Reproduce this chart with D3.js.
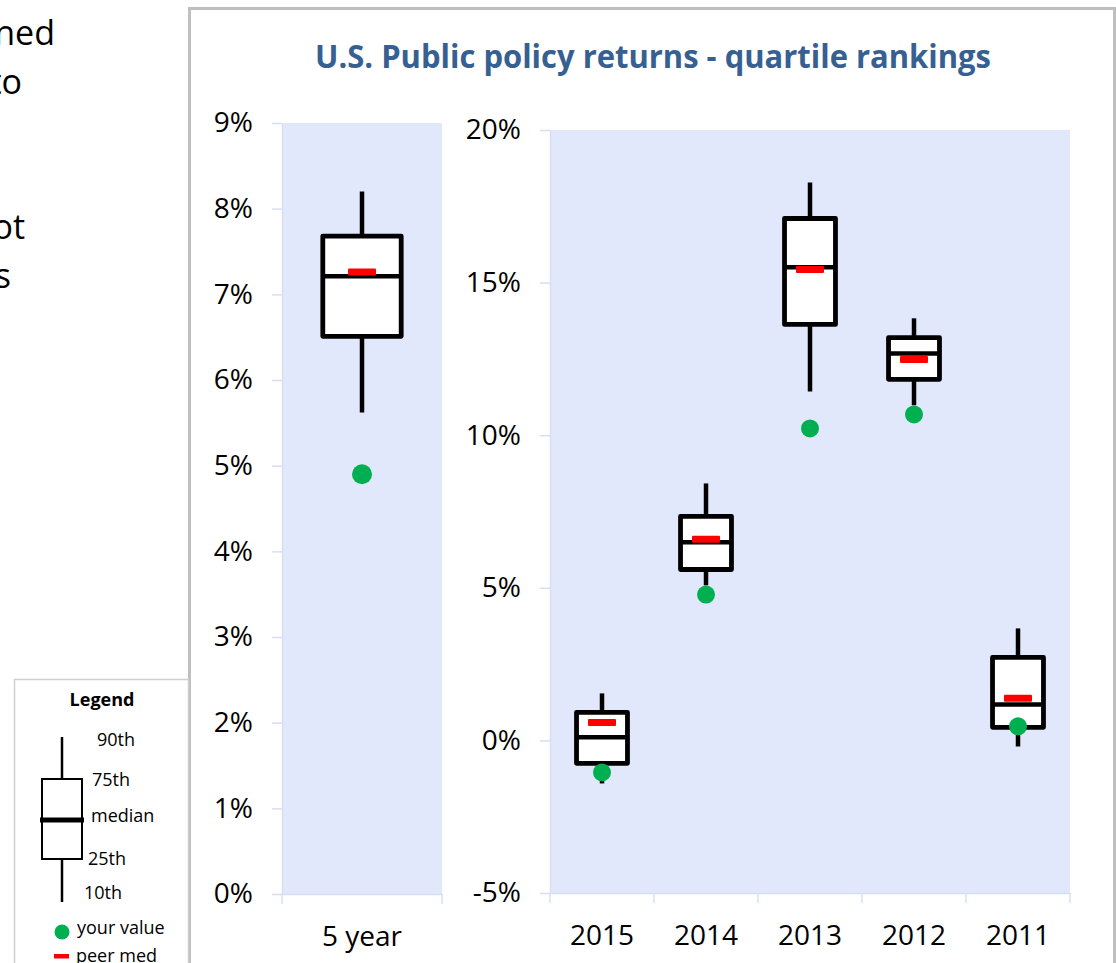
<!DOCTYPE html>
<html>
<head>
<meta charset="utf-8">
<script src="https://cdn.jsdelivr.net/npm/d3@7"></script>
<style>
  body { margin: 0; background: #fff; }
  svg { display: block; font-family: "Open Sans", "Noto Sans", sans-serif; }
  .axis .domain, .axis line { stroke: #d6dff2; stroke-width: 1.5; }
  .axis text { font-family: "Open Sans", "Noto Sans", sans-serif; font-size: 28px; fill: #000; }
</style>
</head>
<body>
<svg width="1116" height="963"></svg>
<script>
// five year panel
const periodCats   = ["5 year"];
const periodP10    = [5.62];
const periodP25    = [6.51];
const periodMed    = [7.21];
const periodP75    = [7.68];
const periodP90    = [8.20];
const periodYours  = [4.90];
const periodPeer   = [7.26];
const periodTicks  = [0, 1, 2, 3, 4, 5, 6, 7, 8, 9];

// annual panel
const years        = ["2015", "2014", "2013", "2012", "2011"];
const yearP10      = [-1.41, 5.08, 11.43, 10.98, -0.20];
const yearP25      = [-0.75, 5.60, 13.63, 11.83, 0.43];
const yearMed      = [0.10, 6.49, 15.50, 12.68, 1.18];
const yearP75      = [0.92, 7.34, 17.10, 13.20, 2.72];
const yearP90      = [1.54, 8.42, 18.28, 13.83, 3.67];
const yearYours    = [-1.05, 4.78, 10.22, 10.68, 0.46];
const yearPeer     = [0.59, 6.59, 15.43, 12.48, 1.38];
const yearTicks    = [-5, 0, 5, 10, 15, 20];

const legendLabels = ["90th", "75th", "median", "25th", "10th"];
const sideText     = ["ned", "to", "", "", "ot", "s"];

const title = "U.S. Public policy returns - quartile rankings";

const svg = d3.select("svg");

const rows = (cats, p10, p25, med, p75, p90, yours, peer) =>
  cats.map((c, i) => ({ cat: c, p10: p10[i], p25: p25[i], med: med[i],
    p75: p75[i], p90: p90[i], yours: yours[i], peer: peer[i] }));

// cut-off paragraph text on the far left
const sideEnds = [55, 22, 0, 0, 25, 11];
svg.append("g")
  .selectAll("text")
  .data(sideText)
  .join("text")
    .attr("x", (_, i) => sideEnds[i])
    .attr("y", (_, i) => 45 + i * 48.5)
    .attr("text-anchor", "end")
    .attr("font-size", 34)
    .text(d => d);

// chart frame
svg.append("rect")
  .attr("x", 189.5).attr("y", 8.5)
  .attr("width", 925).attr("height", 1000)
  .attr("fill", "#fff")
  .attr("stroke", "#bfbfbf")
  .attr("stroke-width", 3);

svg.append("text")
  .attr("x", 653)
  .attr("y", 68)
  .attr("text-anchor", "middle")
  .attr("font-size", 32)
  .attr("font-weight", "bold")
  .attr("fill", "#376092")
  .attr("textLength", 676)
  .attr("lengthAdjust", "spacingAndGlyphs")
  .text(title);

const drawPanel = (data, ticks, xRange, yDomain, yRange, dotR) => {
  const x = d3.scaleBand()
    .domain(data.map(d => d.cat))
    .range(xRange);

  const y = d3.scaleLinear()
    .domain(yDomain)
    .range(yRange);

  const g = svg.append("g");

  g.append("rect")
    .attr("x", xRange[0])
    .attr("y", yRange[1])
    .attr("width", xRange[1] - xRange[0])
    .attr("height", yRange[0] - yRange[1])
    .attr("fill", "#e2e8fb");

  g.append("g")
    .attr("class", "axis")
    .attr("transform", `translate(${xRange[0]},0)`)
    .call(d3.axisLeft(y)
      .tickValues(ticks)
      .tickFormat(d => d + "%")
      .tickSize(10)
      .tickSizeOuter(0)
      .tickPadding(19));

  const xAxis = g.append("g")
    .attr("class", "axis")
    .attr("transform", `translate(0,${yRange[0]})`)
    .call(d3.axisBottom(x)
      .tickSize(0)
      .tickSizeOuter(0)
      .tickPadding(32));

  // category ticks sit on the band edges
  xAxis.selectAll(".edge")
    .data(data.map(d => x(d.cat)).concat(xRange[1]))
    .join("line")
      .attr("class", "edge")
      .attr("x1", d => d).attr("x2", d => d)
      .attr("y1", 0).attr("y2", 10);

  const boxW = x.bandwidth() * 0.49;

  const box = g.selectAll(".box")
    .data(data)
    .join("g")
      .attr("class", "box")
      .attr("transform", d => `translate(${x(d.cat) + x.bandwidth() / 2},0)`);

  box.append("line")
    .attr("y1", d => y(d.p10))
    .attr("y2", d => y(d.p90))
    .attr("stroke", "#000")
    .attr("stroke-width", 4.5);

  box.append("rect")
    .attr("x", -boxW / 2)
    .attr("width", boxW)
    .attr("y", d => y(d.p75))
    .attr("height", d => y(d.p25) - y(d.p75))
    .attr("fill", "#fff")
    .attr("stroke", "#000")
    .attr("stroke-width", 4.8)
    .attr("stroke-linejoin", "round");

  box.append("line")
    .attr("x1", -boxW / 2).attr("x2", boxW / 2)
    .attr("y1", d => y(d.med)).attr("y2", d => y(d.med))
    .attr("stroke", "#000")
    .attr("stroke-width", 4.5);

  box.append("rect")
    .attr("x", -14)
    .attr("width", 28)
    .attr("y", d => y(d.peer) - 3.5)
    .attr("height", 7)
    .attr("rx", 1)
    .attr("fill", "#ff0000");

  box.append("circle")
    .attr("cy", d => y(d.yours))
    .attr("r", dotR)
    .attr("fill", "#00b050");
};

drawPanel(rows(periodCats, periodP10, periodP25, periodMed, periodP75, periodP90, periodYours, periodPeer),
  periodTicks, [282, 442], [0, 9], [894, 123], 10);

drawPanel(rows(years, yearP10, yearP25, yearMed, yearP75, yearP90, yearYours, yearPeer),
  yearTicks, [550, 1070], [-5, 20], [893, 130], 9);

// legend
const legend = svg.append("g");

legend.append("rect")
  .attr("x", 14.5).attr("y", 679.5)
  .attr("width", 174).attr("height", 400)
  .attr("fill", "#fff")
  .attr("stroke", "#cfcfcf")
  .attr("stroke-width", 1.5);

legend.append("text")
  .attr("x", 102).attr("y", 706)
  .attr("text-anchor", "middle")
  .attr("font-size", 18)
  .attr("font-weight", "bold")
  .text("Legend");

legend.append("line")
  .attr("x1", 62).attr("x2", 62)
  .attr("y1", 737).attr("y2", 902)
  .attr("stroke", "#000").attr("stroke-width", 2.5);

legend.append("rect")
  .attr("x", 42).attr("y", 779)
  .attr("width", 40).attr("height", 80)
  .attr("fill", "#fff")
  .attr("stroke", "#000").attr("stroke-width", 2);

legend.append("line")
  .attr("x1", 40).attr("x2", 84)
  .attr("y1", 820).attr("y2", 820)
  .attr("stroke", "#000").attr("stroke-width", 5);

const labelPos = [[97, 746], [92, 786], [91, 822], [88, 865], [84, 899]];
legend.selectAll(".lab")
  .data(legendLabels)
  .join("text")
    .attr("class", "lab")
    .attr("x", (_, i) => labelPos[i][0])
    .attr("y", (_, i) => labelPos[i][1])
    .attr("font-size", 18)
    .text(d => d);

legend.append("circle")
  .attr("cx", 62).attr("cy", 932).attr("r", 7.5)
  .attr("fill", "#00b050");

legend.append("text")
  .attr("x", 77).attr("y", 934)
  .attr("font-size", 18)
  .text("your value");

legend.append("rect")
  .attr("x", 54).attr("y", 954)
  .attr("width", 15).attr("height", 4.5)
  .attr("fill", "#ff0000");

legend.append("text")
  .attr("x", 76).attr("y", 962)
  .attr("font-size", 18)
  .text("peer med");
</script>
</body>
</html>
